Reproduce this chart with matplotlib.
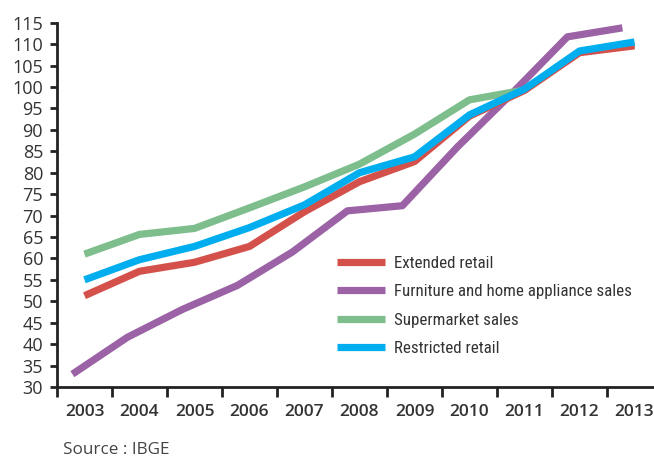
import matplotlib
matplotlib.use("Agg")
import matplotlib.pyplot as plt
import numpy as np

years = ["2003", "2004", "2005", "2006", "2007", "2008", "2009", "2010", "2011", "2012", "2013"]
extended_retail = [51.3, 57.0, 59.1, 62.8, 70.9, 77.9, 82.6, 93.2, 99.2, 108.0, 109.6]
furniture = [33.0, 41.6, 48.1, 53.7, 61.5, 71.1, 72.3, 86.0, 98.6, 111.7, 113.8]
supermarket = [61.0, 65.6, 67.0, 71.8, 76.7, 82.0, 89.0, 97.0, 99.3, 108.2, 110.0]
restricted_retail = [55.0, 59.7, 62.8, 67.2, 72.5, 80.0, 83.7, 93.5, 99.5, 108.4, 110.5]
yticks = list(range(30, 116, 5))

W, H = 654, 458
fig = plt.figure(figsize=(W / 100, H / 100), dpi=100)
ax = fig.add_axes([57 / W, 1 - 387 / H, (662 - 57) / W, (387 - 22.7) / H])

x = np.arange(len(years))
lw = 5.2
ax.plot(x - 0.22, furniture, color="#9B62A6", lw=lw, solid_capstyle="butt", zorder=2,
        label="Furniture and home appliance sales")
ax.plot(x, supermarket, color="#7DBE8C", lw=lw, solid_capstyle="butt", zorder=3,
        label="Supermarket sales")
ax.plot(x, extended_retail, color="#D4504A", lw=lw, solid_capstyle="butt", zorder=4,
        label="Extended retail")
ax.plot(x, restricted_retail, color="#00AEEF", lw=lw, solid_capstyle="butt", zorder=5,
        label="Restricted retail")

ax.set_xlim(-0.5, len(years) - 0.5)
ax.set_ylim(30, 115)
ax.set_yticks(yticks)
ax.set_yticklabels([str(v) for v in yticks])
ax.set_xticks(np.arange(len(years)) - 0.5)
ax.set_xticklabels([])
ax.set_xticks(x, minor=True)
ax.set_xticklabels(years, minor=True)

for s in ["top", "right"]:
    ax.spines[s].set_visible(False)
for s in ["left", "bottom"]:
    ax.spines[s].set_color("#222222")
    ax.spines[s].set_linewidth(2)

ax.tick_params(axis="y", which="major", length=5, width=2, color="#222222",
               pad=5, labelsize=13, labelcolor="#333333")
ax.tick_params(axis="x", which="major", length=7, width=2, color="#222222", direction="out")
ax.tick_params(axis="x", which="minor", length=0, pad=12, labelsize=12.5, labelcolor="#333333")
for t in ax.get_yticklabels():
    t.set_fontfamily(["Open Sans", "DejaVu Sans"])
for t in ax.get_xticklabels(minor=True):
    t.set_fontfamily(["Open Sans", "DejaVu Sans"])
    t.set_fontweight("semibold")

handles, labels = ax.get_legend_handles_labels()
order = ["Extended retail", "Furniture and home appliance sales", "Supermarket sales", "Restricted retail"]
hmap = dict(zip(labels, handles))
leg = fig.legend([hmap[l] for l in order], order, loc="upper left",
                 bbox_to_anchor=(337 / W, 1 - 256 / H), frameon=False,
                 borderpad=0, borderaxespad=0, handlelength=2.84, handletextpad=0.53,
                 labelspacing=0.79,
                 prop={"family": ["Roboto Condensed", "Roboto", "DejaVu Sans"],
                       "size": 12.2, "stretch": "condensed"})
for t in leg.get_texts():
    t.set_color("#333333")

fig.text(63 / W, 1 - 450 / H, "Source : IBGE", fontsize=12.3, color="#444444",
         family=["Open Sans", "DejaVu Sans"], va="center", ha="left")

fig.savefig("out.png", dpi=100)
